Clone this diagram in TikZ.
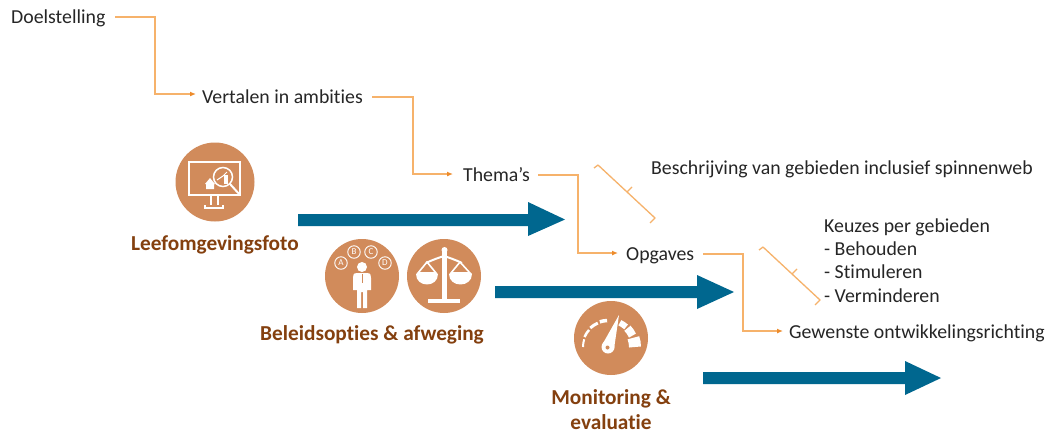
\documentclass[tikz,border=0pt]{standalone}
\usepackage{fontspec}
\setmainfont{Carlito}[RawFeature={-liga}]
\usetikzlibrary{arrows.meta}
\definecolor{orangeline}{HTML}{F6B26B}
\definecolor{orangetip}{HTML}{ED8B2B}
\definecolor{bluearrow}{HTML}{00678F}
\definecolor{iconfill}{HTML}{D18B5B}
\definecolor{labelbrown}{HTML}{84400F}
\definecolor{txt}{HTML}{262626}
\tikzset{
  txtnode/.style={font=\fontsize{19.8}{22}\selectfont,text=txt,inner sep=0pt,anchor=base west},
  flow/.style={draw=orangeline,line width=1.2pt,-{Latex[length=6pt,width=5pt,color=orangetip]}},
  bracket/.style={draw=orangeline,line width=1.3pt,line join=round},
  bigarrow/.style={fill=bluearrow,draw=none},
  iconbg/.style={fill=iconfill,draw=none},
  iconln/.style={draw=white,line width=1.5pt,fill=none},
  iconfl/.style={fill=white,draw=none},
  lab/.style={font=\fontsize{21.3}{24}\selectfont\bfseries,text=labelbrown,inner sep=0pt,anchor=base},
  tiny/.style={font=\fontsize{9}{9}\selectfont,text=white,inner sep=0pt}
}
\begin{document}
\begin{tikzpicture}[x=1pt,y=-1pt]
\useasboundingbox[fill=white] (0,0) rectangle (1054,437);
% text
\node[txtnode] (doel) at (11,23) {Doelstelling};
\node[txtnode] (vert) at (202,103) {Vertalen in ambities};
\node[txtnode] (thema) at (463,181) {Thema’s};
\node[txtnode] (opg) at (626,260) {Opgaves};
\node[txtnode] (gew) at (789,338) {Gewenste ontwikkelingsrichting};
\node[txtnode] (besch) at (651,174) {Beschrijving van gebieden inclusief spinnenweb};
\node[txtnode] (keuz) at (824,232) {Keuzes per gebieden};
\node[txtnode] (beh) at (824,255) {- Behouden};
\node[txtnode] (sti) at (824,278) {- Stimuleren};
\node[txtnode] (ver) at (824,302) {- Verminderen};
% flows
\coordinate (doelE) at (115,17);
\coordinate (vertE) at (372,97);
\coordinate (themaE) at (538,175);
\coordinate (opgE) at (703,254);
\coordinate (vertW) at (196,94);
\coordinate (themaW) at (453,174);
\coordinate (opgW) at (618,253);
\coordinate (gewW) at (783,331);
\draw[flow] (doelE) -- (155,17) |- (vertW);
\draw[flow] (vertE) -- (413,97) |- (themaW);
\draw[flow] (themaE) -- (578,175) |- (opgW);
\draw[flow] (opgE) -- (743,254) |- (gewW);
% brackets
\draw[bracket] (594,168) -- (598,165) -- (655,218) -- (650,223);
\draw[bracket] (627,192) -- (632,187);
\draw[bracket] (759,250) -- (763,247) -- (820,300) -- (815,305);
\draw[bracket] (792,274) -- (797,269);
% blue arrows
\fill[bigarrow] (298,214) -- (528,214) -- (528,202) -- (565,219.5) -- (528,236) -- (528,226) -- (298,226) -- cycle;
\fill[bigarrow] (495,286) -- (697,286) -- (697,275) -- (734,292) -- (697,309) -- (697,298) -- (495,298) -- cycle;
\fill[bigarrow] (703,372) -- (905,372) -- (905,361) -- (941,378) -- (905,395) -- (905,384) -- (703,384) -- cycle;
% labels
\node[lab] (l1) at (215,250) {Leefomgevingsfoto};
\node[lab] (l2) at (372,340) {Beleidsopties \& afweging};
\node[lab] (l3) at (611,404) {Monitoring \&};
\node[lab] (l4) at (611,429) {evaluatie};
% icon 1: monitor
\fill[iconbg] (215,182) circle (39.5);
\draw[iconln] (189,162) rectangle (240,195);
\fill[iconbg] (222,177) circle (13);
\draw[iconln] (211,195) -- (211,205) (218,195) -- (218,205);
\draw[iconln] (205,205) -- (205,208) -- (223,208) -- (223,205);
\draw[iconln] (223,177) circle (9.5);
\draw[white,line width=2pt,line cap=round] (230,184) -- (240,195);
\fill[iconfl] (205,184) -- (210,178) -- (215,184) -- (214,184) -- (214,189) -- (206,189) -- (206,184) -- cycle;
\draw[white,line width=1pt] (217,180) -- (223,176) -- (227,172);
\fill[iconfl] (224,175) rectangle (228,184);
% icon 2: person with options
\fill[iconbg] (362,276) circle (37);
\fill[iconfl] (362,267) circle (5);
\fill[iconfl] (357,273) -- (367,273) .. controls (371,273) and (371,276) .. (371,278) -- (371,290) -- (367,290) -- (367,308) -- (363,308) -- (363,292) -- (361,292) -- (361,308) -- (357,308) -- (357,290) -- (353,290) -- (353,278) .. controls (353,276) and (353,273) .. (357,273) -- cycle;
\draw[iconfill,line width=0.8pt] (362,274) -- (362,283);
\foreach \nm/\px/\py/\ch in {a/341/263/A,b/354/252/B,c/371/252/C,d/385/263/D}{
  \node[tiny,draw=white,circle,line width=0.9pt,minimum size=12.5pt] (opt\nm) at (\px,\py) {\ch};
}
% icon 3: scales
\fill[iconbg] (444,276) circle (37);
\fill[iconfl] (442,252) rectangle (447,299);
\fill[iconfl] (444.5,250) circle (3);
\fill[iconfl] (428,299) rectangle (460,303);
\draw[white,line width=2pt] (426,263) .. controls (432,260) and (438,258) .. (444,256) .. controls (450,258) and (456,260) .. (462,263);
\draw[white,line width=1.6pt] (418,273) -- (427,262) -- (436,273) -- cycle;
\draw[white,line width=1.6pt] (451,273) -- (460,262) -- (470,273) -- cycle;
\fill[iconfl] (416,274) -- (438,274) .. controls (438,288) and (416,288) .. (416,274) -- cycle;
\fill[iconfl] (449,274) -- (472,274) .. controls (472,288) and (449,288) .. (449,274) -- cycle;
% icon 4: gauge
\fill[iconbg] (611,338) circle (37);
\coordinate (gc) at (608,347);
\foreach \aa/\ab/\rr/\ww in {180/198/25/2,203/222/25.5/2.5,227/247/26/3,252/268/26.5/3.5,296/312/27/6,316/335/27/8,340/360/27/12}{
  \draw[white,line width=\ww pt] (gc) ++(\aa:\rr) arc[start angle=\aa,end angle=\ab,radius=\rr];
}
\fill[iconfl] (619,315) -- (614,349) -- (602,345) -- cycle;
\fill[iconfl] (608,347) circle (6.5);
\fill[iconbg] (607.5,347.5) circle (2);
\end{tikzpicture}
\end{document}
